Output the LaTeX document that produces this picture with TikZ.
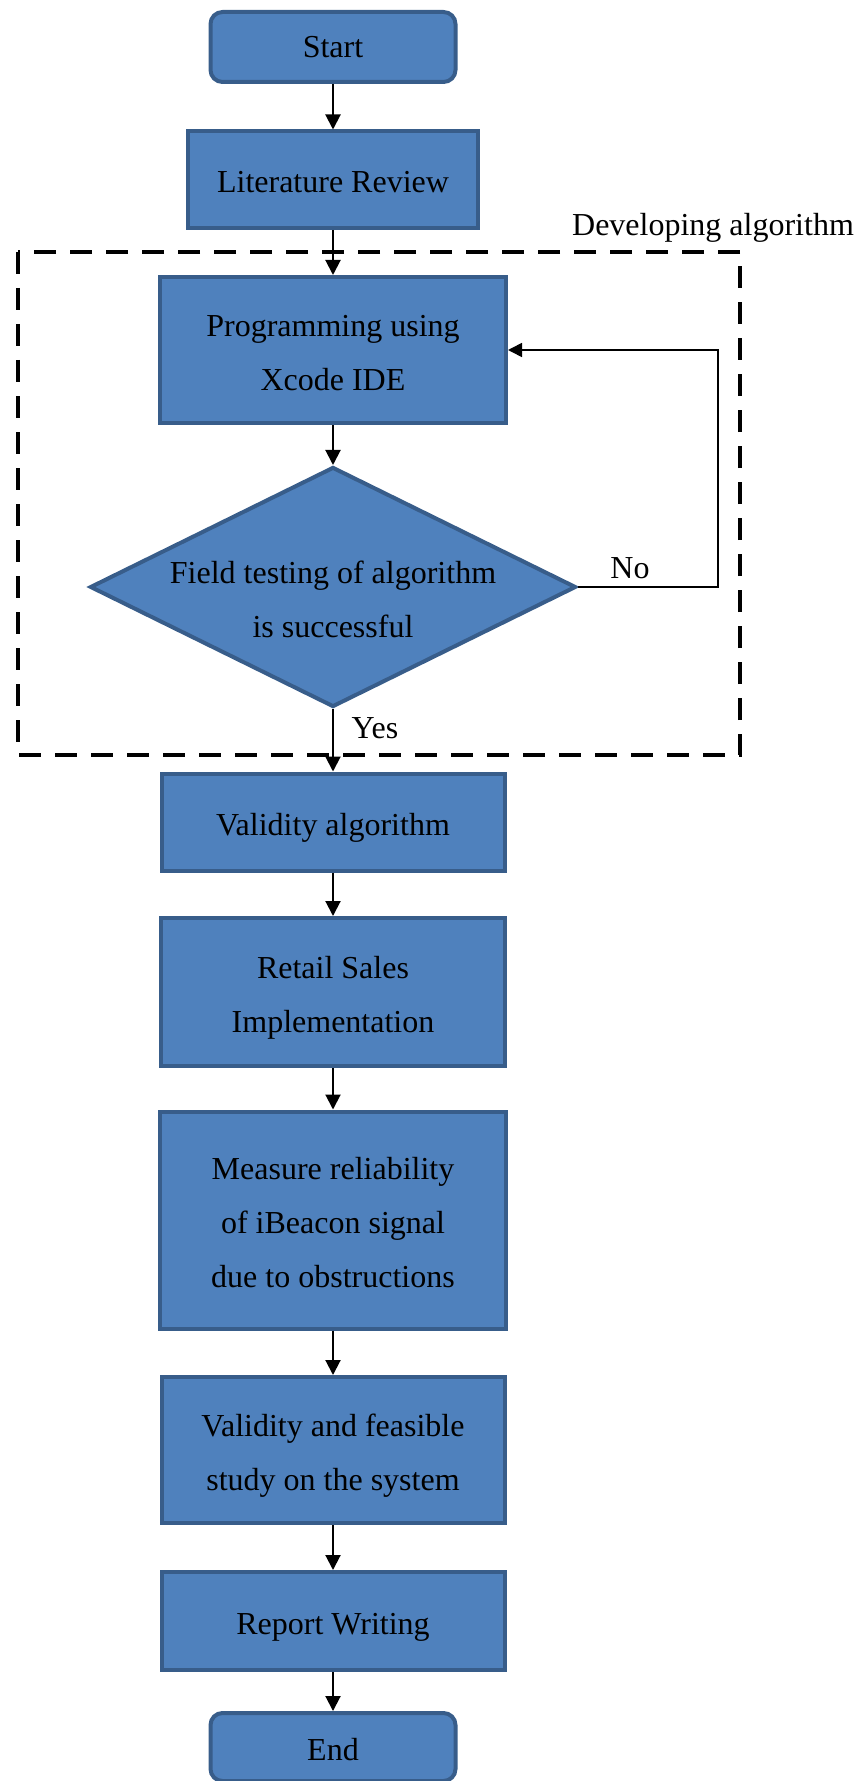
\documentclass[tikz,border=0pt]{standalone}
\usepackage{fontspec}
\setmainfont{Liberation Serif}
\usepackage{tikz}
\usetikzlibrary{shapes.geometric,arrows.meta}
\definecolor{boxfill}{RGB}{79,129,189}
\definecolor{boxline}{RGB}{56,93,138}

\tikzset{
  stepbox/.style={draw=boxline, fill=boxfill, line width=2pt, align=center,
    inner sep=0pt, font=\fontsize{16}{27}\selectfont, text height=20pt, text depth=7pt},
  twoline/.style={text height=47pt},
  threeline/.style={text height=74pt},
  terminal/.style={stepbox, rounded corners=6pt, minimum width=122.5pt, minimum height=35pt},
  decision/.style={draw=boxline, fill=boxfill, line width=2pt, diamond, inner sep=0pt,
    minimum width=243pt, minimum height=120pt},
  note/.style={font=\fontsize{16}{19}\selectfont, inner sep=0pt},
  flow/.style={-{Triangle[width=7.5pt,length=7.5pt]}, line width=1pt},
  loopback/.style={-{Triangle[width=7pt,length=7pt]}, line width=0.8pt},
  devbox/.style={dash pattern=on 11pt off 7pt, line width=2pt}
}

\begin{document}
\begin{tikzpicture}[x=0.5pt,y=-0.5pt]
  \useasboundingbox (0,0) rectangle (861,1781);

  % developing algorithm frame
  \draw[devbox] (18,252) rectangle (740,755);
  \node[note] (devlabel) at (713,228) {Developing algorithm};

  \node[terminal, text height=18pt] (start) at (333,47) {Start};
  \node[stepbox, minimum width=145pt, minimum height=48.5pt] (review) at (333,180) {Literature Review};
  \node[stepbox, twoline, minimum width=173pt, minimum height=73pt] (prog) at (333,350) {Programming using\\Xcode IDE};
  \node[decision] (test) at (333,587) {};
  \node[note, align=center, font=\fontsize{16}{27}\selectfont, text height=47pt, text depth=7pt] (testtext) at (333,597) {Field testing of algorithm\\is successful};
  \node[stepbox, minimum width=171.5pt, minimum height=48.5pt] (valid) at (333,822) {Validity algorithm};
  \node[stepbox, twoline, minimum width=172pt, minimum height=74pt] (retail) at (333,992) {Retail Sales\\Implementation};
  \node[stepbox, threeline, minimum width=173pt, minimum height=108.5pt] (measure) at (333,1220) {Measure reliability\\of iBeacon signal\\due to obstructions};
  \node[stepbox, twoline, minimum width=171.5pt, minimum height=73pt] (study) at (333,1450) {Validity and feasible\\study on the system};
  \node[stepbox, minimum width=171.5pt, minimum height=49pt] (report) at (333,1621) {Report Writing};
  \node[terminal, minimum height=34pt] (finish) at (333,1747) {End};

  \draw[flow] (start) -- (review);
  \draw[flow] (review) -- (prog);
  \draw[flow] (prog) -- (test);
  \draw[flow] (test) -- (valid);
  \draw[flow] (valid) -- (retail);
  \draw[flow] (retail) -- (measure);
  \draw[flow] (measure) -- (study);
  \draw[flow] (study) -- (report);
  \draw[flow] (report) -- (finish);

  % no -> back to programming
  \coordinate (loopcorner) at (718,350);
  \draw[loopback] (test.east) -| (loopcorner) -- (prog.east);
  \node[note] (nolabel) at (630,568) {No};
  \node[note] (yeslabel) at (375,728) {Yes};
\end{tikzpicture}
\end{document}
